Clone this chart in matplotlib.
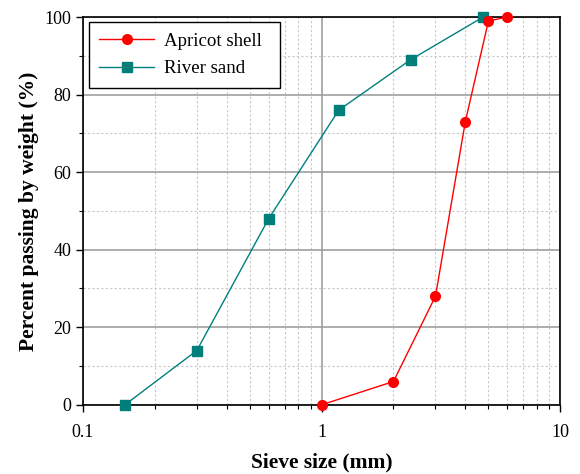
import matplotlib.pyplot as plt
from matplotlib.ticker import LogLocator, MultipleLocator, NullFormatter, FixedFormatter, FixedLocator

plt.rcParams['font.family'] = ['Liberation Serif', 'DejaVu Serif']

apricot_size = [1, 2, 3, 4, 5, 6]
apricot_pass = [0, 6, 28, 73, 99, 100]
sand_size = [0.15, 0.3, 0.6, 1.18, 2.36, 4.75]
sand_pass = [0, 14, 48, 76, 89, 100]

fig = plt.figure(figsize=(5.8, 4.74), dpi=100)
ax = fig.add_axes([0.143, 0.146, 0.823, 0.818])

ax.plot(apricot_size, apricot_pass, color="red", marker="o", ms=7, lw=1,
        label="Apricot shell", clip_on=False, zorder=4)
ax.plot(sand_size, sand_pass, color="#008080", marker="s", ms=6.5, lw=1,
        mfc="#007f7a", mec="#007f7a", label="River sand", clip_on=False, zorder=3)

ax.set_xscale("log")
ax.set_xlim(0.1, 10)
ax.set_ylim(0, 100)
ax.xaxis.set_major_locator(FixedLocator([0.1, 1, 10]))
ax.xaxis.set_major_formatter(FixedFormatter(["0.1", "1", "10"]))
ax.xaxis.set_minor_locator(LogLocator(base=10, subs=range(2, 10)))
ax.xaxis.set_minor_formatter(NullFormatter())
ax.yaxis.set_major_locator(MultipleLocator(20))
ax.yaxis.set_minor_locator(MultipleLocator(10))

ax.grid(which="major", color="#a0a0a0", lw=1.2, ls="-")
ax.grid(which="minor", color="#c8c8c8", lw=0.8, ls=(0, (2, 2)))
ax.set_axisbelow(True)

ax.tick_params(which="major", direction="out", length=5, width=1, labelsize=13,
               top=False, right=False)
ax.tick_params(axis="x", which="major", pad=9)
ax.tick_params(which="minor", direction="out", length=3, width=0.8,
               top=False, right=False)
for s in ax.spines.values():
    s.set_linewidth(1.2)

ax.set_xlabel("Sieve size (mm)", fontsize=15.5, fontweight="bold", labelpad=8)
ax.set_ylabel("Percent passing by weight (%)", fontsize=15.5, fontweight="bold", labelpad=4)

leg = ax.legend(loc="upper left", bbox_to_anchor=(0.0126, 0.70, 0.400, 0.287),
                mode="expand", borderaxespad=0,
                fontsize=13.6, frameon=True, fancybox=False,
                edgecolor="black", framealpha=1, handlelength=2.9, handletextpad=0.53,
                labelspacing=0.55, borderpad=0.55)
leg.get_frame().set_linewidth(1.0)

fig.savefig("out.png", dpi=100)
